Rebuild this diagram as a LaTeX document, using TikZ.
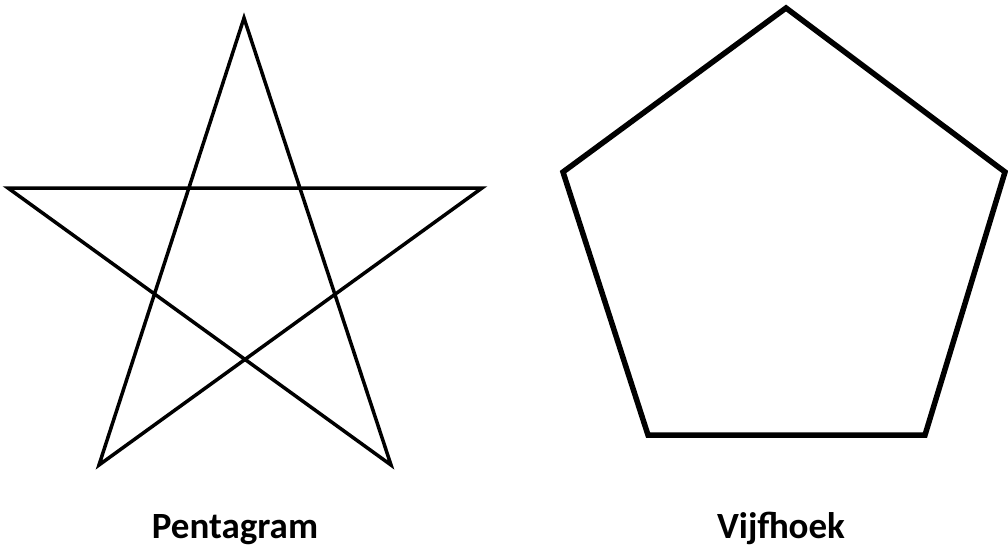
\documentclass[tikz,border=0pt]{standalone}
\usepackage{fontspec}
\setmainfont{Carlito}
\usetikzlibrary{calc}

\tikzset{label text/.style={font=\bfseries\fontsize{37}{44}\selectfont,anchor=base}}

\begin{document}
\begin{tikzpicture}[x=1pt,y=-1pt,line join=miter]
\useasboundingbox (0,0) rectangle (1008,547);
% pentagram
\coordinate (st) at (244,18);
\coordinate (sl) at (8,188);
\coordinate (sr) at (482,188);
\coordinate (sbl) at (99,465);
\coordinate (sbr) at (391,465);
\draw[line width=3.5pt] (st) -- (sbl) -- (sr) -- (sl) -- (sbr) -- cycle;
% pentagon
\coordinate (pt) at (786,8);
\coordinate (pl) at (563,172);
\coordinate (pr) at (1005,172);
\coordinate (pbl) at (648,435);
\coordinate (pbr) at (925,435);
\draw[line width=5.5pt] (pt) -- (pr) -- (pbr) -- (pbl) -- (pl) -- cycle;
\node[label text] (pentagram) at (235,538) {Pentagram};
\node[label text] (vijfhoek) at (781,538) {Vijfhoek};
\end{tikzpicture}
\end{document}
